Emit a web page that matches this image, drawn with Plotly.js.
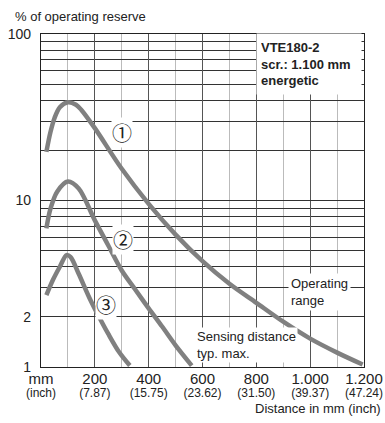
<!DOCTYPE html>
<html>
<head>
<meta charset="utf-8">
<script src="https://cdn.plot.ly/plotly-3.0.1.min.js"></script>
<style>html,body{margin:0;padding:0;background:#fff;}#chart{width:385px;height:423px;}</style>
</head>
<body>
<div id="chart"></div>
<script>
// Curve ① (operating range, widest)
const curve1X = [20, 35, 50, 70, 100, 130, 150, 200, 300, 400, 500, 600, 700, 800, 900, 1000, 1100, 1195];
const curve1Y = [19.6, 25.7, 31.2, 36.3, 38.9, 37.6, 35, 27.2, 15.5, 9.55, 6.24, 4.32, 3.16, 2.43, 1.87, 1.48, 1.22, 1.035];
// Curve ②
const curve2X = [20, 35, 60, 100, 140, 200, 250, 300, 350, 400, 450, 500, 560];
const curve2Y = [6.8, 8.9, 11.3, 13.0, 11.8, 7.6, 5.37, 3.8, 2.92, 2.25, 1.75, 1.35, 1.02];
// Curve ③
const curve3X = [20, 45, 70, 95, 110, 140, 180, 213, 250, 290, 330];
const curve3Y = [2.7, 3.35, 4.0, 4.7, 4.57, 3.63, 2.6, 2.04, 1.58, 1.23, 1.02];

const xTickVals = [0, 200, 400, 600, 800, 1000, 1200];
const xTickMm = ['mm', '200', '400', '600', '800', '1.000', '1.200'];
const xTickInch = ['(inch)', '(7.87)', '(15.75)', '(23.62)', '(31.50)', '(39.37)', '(47.24)'];
const xMinorVals = [100, 300, 500, 700, 900, 1100];
const yTickVals = [1, 2, 10, 100];
const yTickText = ['1', '2', '10', '100'];
const yMinorVals = [3, 4, 5, 6, 7, 8, 9, 20, 30, 40, 50, 60, 70, 80, 90];

const curveLabels = ['①', '②', '③'];
const curveLabelX = [300, 304, 243];
const curveLabelY = [25.5, 5.87, 2.36];

const FONT = 'Liberation Sans, Arial, sans-serif';
const TXT = '#222';
const CURVE = '#808080';

const mk = (x, y) => ({
  x: x, y: y, type: 'scatter', mode: 'lines',
  line: {color: CURVE, width: 4.5, shape: 'spline', smoothing: 0.9},
  hoverinfo: 'skip', showlegend: false
});

const data = [mk(curve1X, curve1Y), mk(curve2X, curve2Y), mk(curve3X, curve3Y)];

const annotations = [
  {xref: 'paper', yref: 'paper', x: -0.087, y: 1.054, xanchor: 'left', yanchor: 'middle',
   text: '% of operating reserve', showarrow: false, font: {family: FONT, size: 13, color: TXT}},
  {xref: 'paper', yref: 'paper', x: 1.0588, y: -0.126, xanchor: 'right', yanchor: 'middle',
   text: 'Distance in mm (inch)', showarrow: false, font: {family: FONT, size: 13, color: TXT}},
  {xref: 'paper', yref: 'paper', x: 0.829, y: 0.91, xanchor: 'center', yanchor: 'middle',
   width: 96, height: 52, align: 'left', bgcolor: '#fff', borderpad: 4,
   text: '<b>VTE180-2</b><br><b>scr.: 1.100 mm</b><br><b>energetic</b>', showarrow: false,
   font: {family: FONT, size: 13, color: TXT}},
  {xref: 'paper', yref: 'paper', x: 0.765, y: 0.2267, xanchor: 'left', yanchor: 'middle',
   align: 'left', bgcolor: '#fff', borderpad: 2,
   text: 'Operating<br>range', showarrow: false, font: {family: FONT, size: 13, color: TXT}},
  {xref: 'paper', yref: 'paper', x: 0.477, y: 0.0646, xanchor: 'left', yanchor: 'middle',
   align: 'left', bgcolor: '#fff', borderpad: 1,
   text: 'Sensing distance<br>typ. max.', showarrow: false, font: {family: FONT, size: 13, color: TXT}}
];
curveLabels.forEach((t, i) => annotations.push({
  x: curveLabelX[i], y: Math.log10(curveLabelY[i]), xref: 'x', yref: 'y',
  text: t, showarrow: false, bgcolor: '#fff', borderpad: 0,
  font: {family: 'Noto Sans CJK JP, DejaVu Sans, sans-serif', size: 20, color: TXT}
}));

const layout = {
  width: 385, height: 423,
  margin: {l: 41, r: 21, t: 34, b: 56},
  paper_bgcolor: '#fff', plot_bgcolor: '#fff',
  showlegend: false,
  xaxis: {
    range: [0, 1200], tickmode: 'array', tickvals: xTickVals,
    ticktext: xTickVals.map((v, i) => '<span style="font-size:15px">' + xTickMm[i] +
      '</span><br><span style="font-size:12px">' + xTickInch[i] + '</span>'),
    showgrid: true, gridcolor: '#555', gridwidth: 1,
    minor: {tickvals: xMinorVals, showgrid: true, gridcolor: '#bbb', gridwidth: 1, ticks: ''},
    showline: true, linecolor: '#222', linewidth: 1.2, mirror: true,
    ticks: '', zeroline: false, ticklabelstandoff: 4,
    tickfont: {family: FONT, size: 10, color: TXT}
  },
  yaxis: {
    type: 'log', range: [0, 2], tickmode: 'array', tickvals: yTickVals, ticktext: yTickText,
    showgrid: true, gridcolor: '#333', gridwidth: 1,
    minor: {tickvals: yMinorVals, showgrid: true, gridcolor: '#333', gridwidth: 1, ticks: ''},
    showline: true, linecolor: '#222', linewidth: 1.2, mirror: true,
    ticks: '', zeroline: false, ticklabelstandoff: 6,
    tickfont: {family: FONT, size: 14, color: TXT}
  },
  annotations: annotations
};

Plotly.newPlot('chart', data, layout, {displayModeBar: false, staticPlot: true});
</script>
</body>
</html>
